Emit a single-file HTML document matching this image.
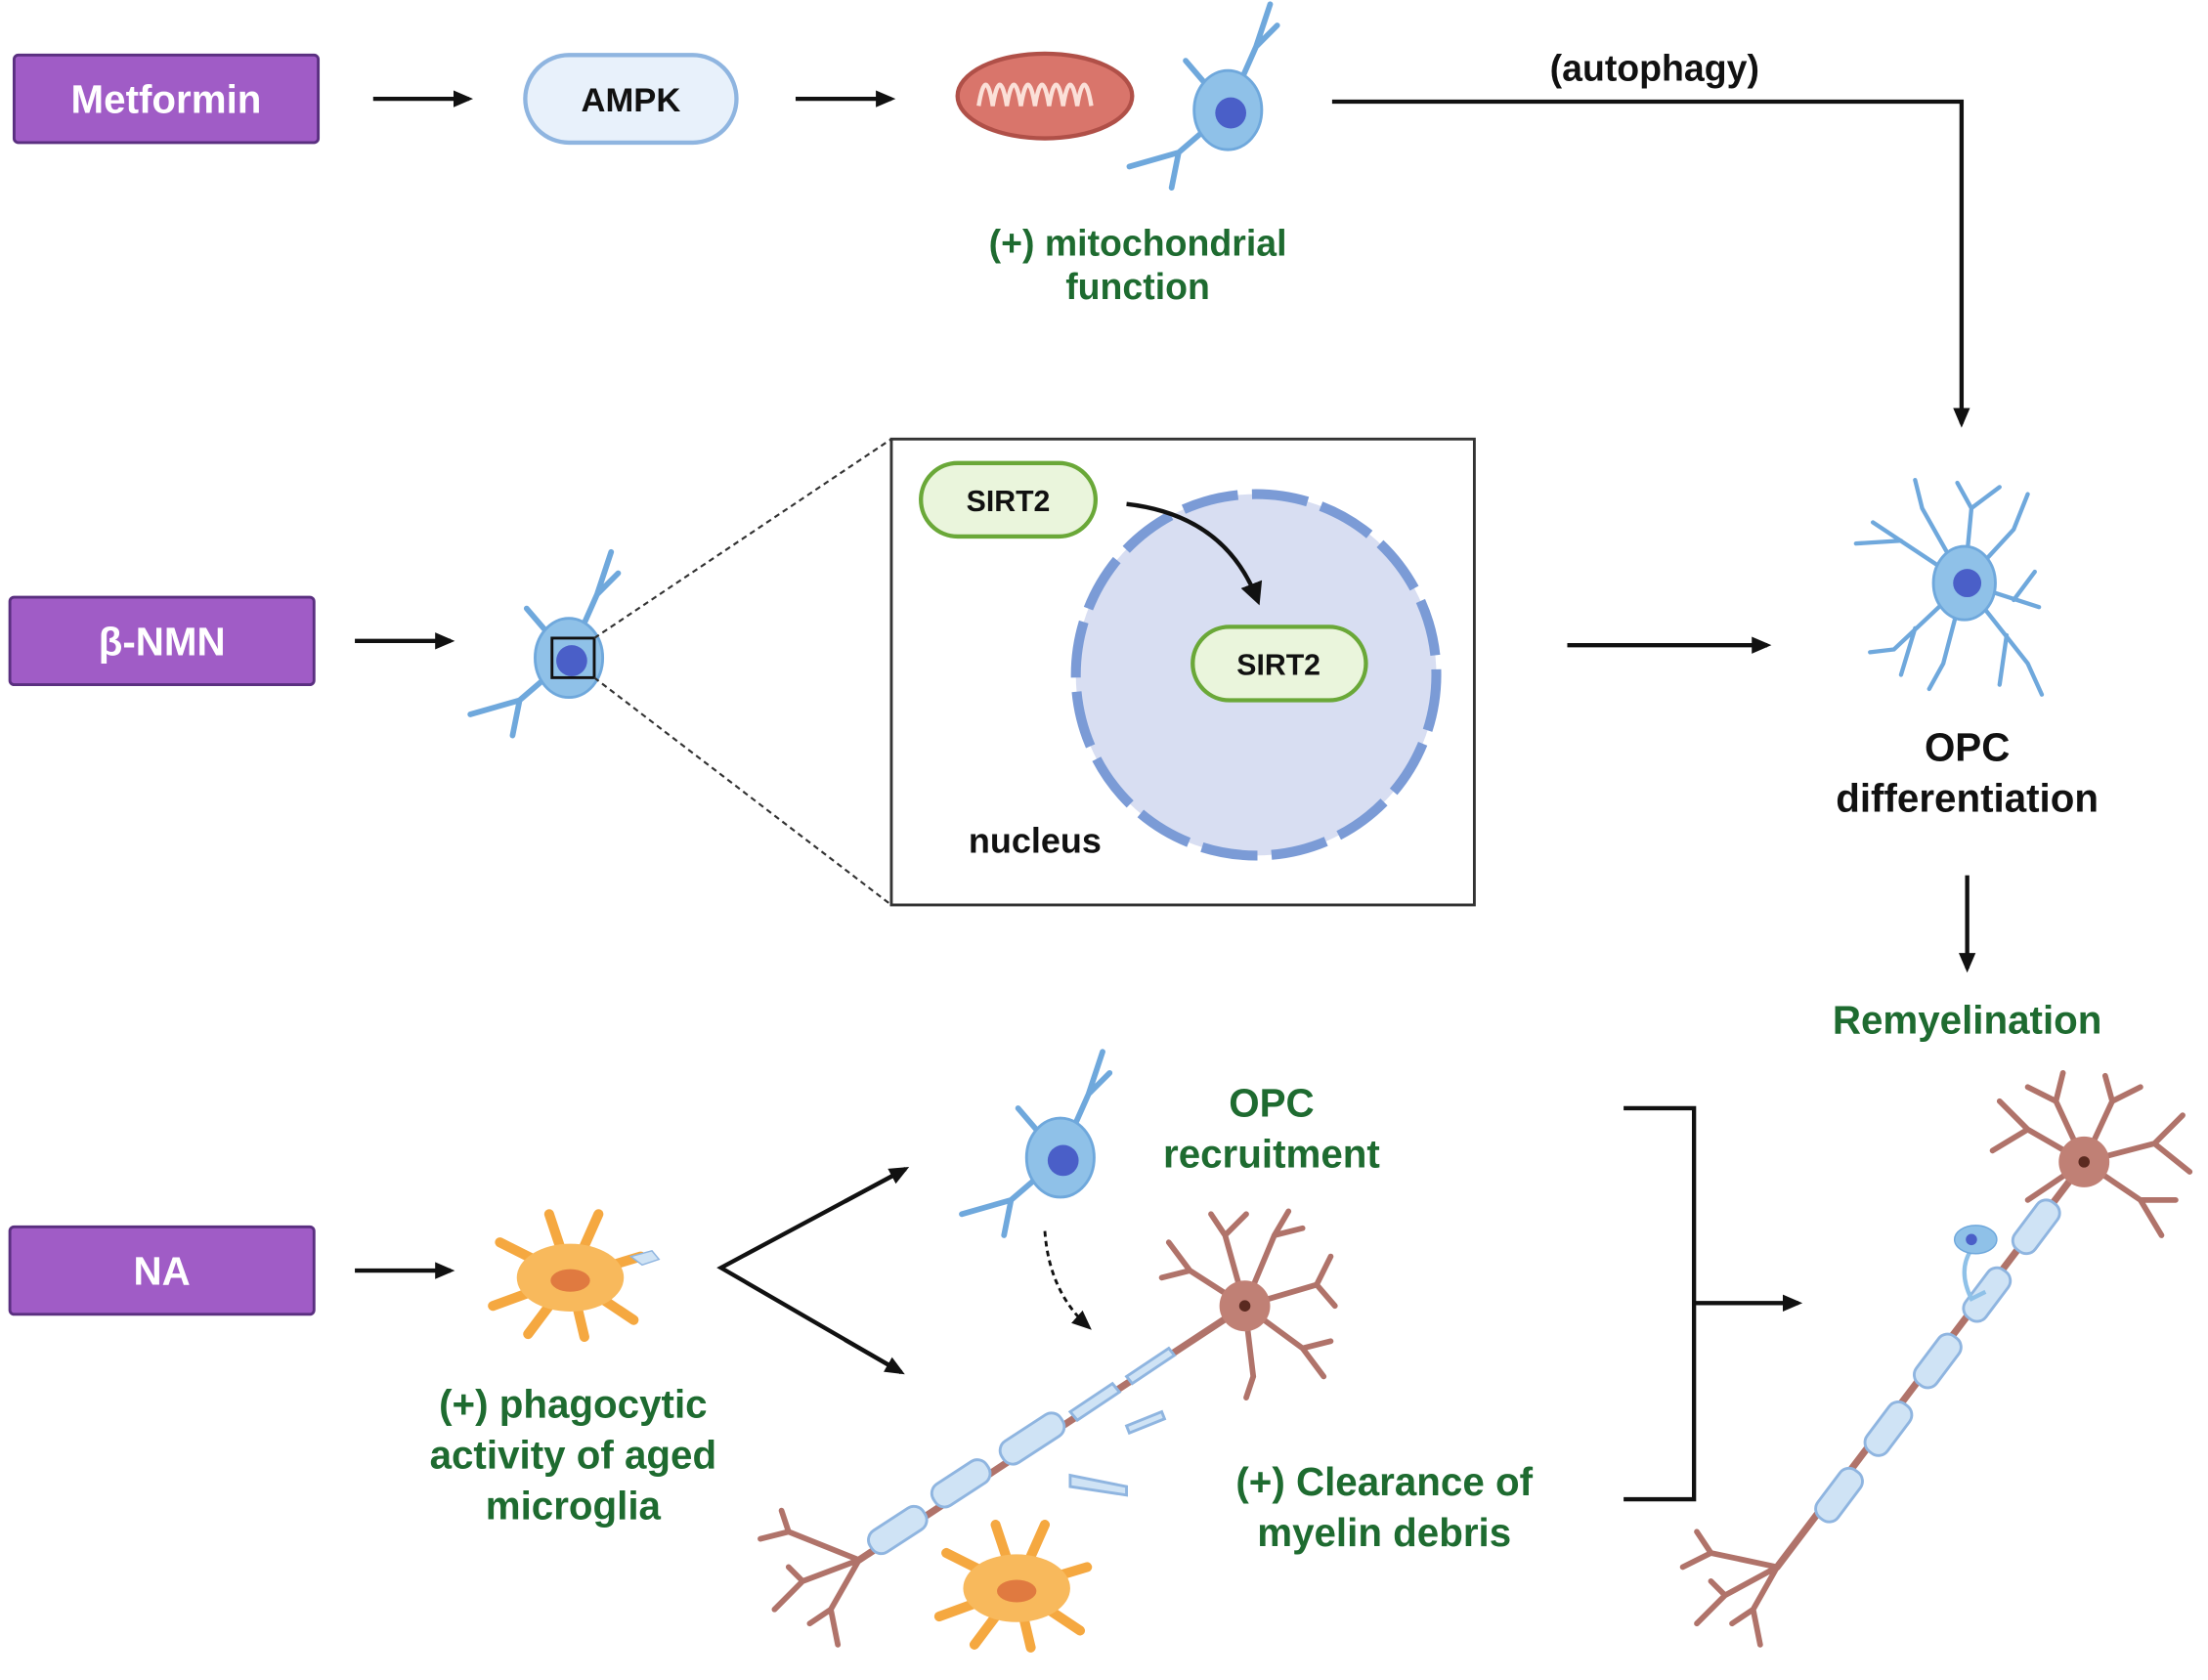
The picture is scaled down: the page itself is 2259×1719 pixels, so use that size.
<!DOCTYPE html>
<html><head><meta charset="utf-8"><style>
html,body{margin:0;padding:0;background:#fff;}
svg{display:block;}
text{font-family:"Liberation Sans",sans-serif;font-weight:bold;}
</style></head><body>
<svg width="2259" height="1719" viewBox="0 0 1568 1190" preserveAspectRatio="none" xmlns="http://www.w3.org/2000/svg">
<defs>
<marker id="ah" markerWidth="14" markerHeight="14" refX="11" refY="7" orient="auto" markerUnits="userSpaceOnUse" viewBox="0 0 14 14">
<path d="M0,1 L14,7 L0,13 z" fill="#111"/></marker>
<marker id="ah2" markerWidth="16" markerHeight="16" refX="12" refY="8" orient="auto" markerUnits="userSpaceOnUse" viewBox="0 0 16 16">
<path d="M0,0 L16,8 L0,16 z" fill="#111"/></marker>
<g id="opc">
<path d="M0,0 L-30,-35 M0,0 L20,-45 L35,-60 M20,-45 L30,-75 M0,0 L-35,30 L-70,40 M-35,30 L-40,55" stroke="#6fa8dc" stroke-width="4" fill="none" stroke-linecap="round"/>
<ellipse cx="0" cy="0" rx="24" ry="28" fill="#8fc1e8" stroke="#6fa8dc" stroke-width="2"/>
<circle cx="2" cy="2" r="11" fill="#4a5fc8"/>
</g>
<g id="mg">
<path d="M0,0 L-50,-25 M0,0 L-55,20 M0,0 L-30,40 M0,0 L10,42 M0,0 L45,30 M0,0 L50,-15 M0,0 L20,-45 M0,0 L-15,-45" stroke="#f5a840" stroke-width="7" fill="none" stroke-linecap="round"/>
<ellipse cx="0" cy="0" rx="38" ry="24" fill="#f8b95c"/>
<ellipse cx="0" cy="2" rx="14" ry="8" fill="#e07a40"/>
</g>
</defs>

<rect x="10" y="39" width="216" height="62" rx="3" fill="#a05cc6" stroke="#5a2f80" stroke-width="2"/>
<text x="118" y="80" fill="#fff" font-size="28" text-anchor="middle">Metformin</text>
<line x1="265" y1="70" x2="333" y2="70" stroke="#111" stroke-width="3" marker-end="url(#ah)"/>
<rect x="373" y="39" width="150" height="62" rx="31" fill="#e8f1fb" stroke="#8fb5e0" stroke-width="3"/>
<text x="448" y="79" fill="#111" font-size="24" text-anchor="middle">AMPK</text>
<line x1="565" y1="70" x2="633" y2="70" stroke="#111" stroke-width="3" marker-end="url(#ah)"/>
<ellipse cx="742" cy="68" rx="62" ry="30" fill="#d9756b" stroke="#b05048" stroke-width="3"/>
<path d="M695,75 q5,-30 10,0 q5,-30 10,0 q5,-30 10,0 q5,-30 10,0 q5,-30 10,0 q5,-30 10,0 q5,-30 10,0 q5,-30 10,0" stroke="#fbe0d8" stroke-width="3" fill="none"/>
<use href="#opc" x="872" y="78"/>
<text x="808" y="181" fill="#1e6b30" font-size="26" text-anchor="middle">(+) mitochondrial</text>
<text x="808" y="212" fill="#1e6b30" font-size="26" text-anchor="middle">function</text>
<polyline points="946,72 1393,72 1393,300" fill="none" stroke="#111" stroke-width="3" marker-end="url(#ah)"/>
<text x="1175" y="57" fill="#111" font-size="26" text-anchor="middle">(autophagy)</text>

<rect x="7" y="423" width="216" height="62" rx="3" fill="#a05cc6" stroke="#5a2f80" stroke-width="2"/>
<text x="115" y="464" fill="#fff" font-size="28" text-anchor="middle">β-NMN</text>
<line x1="252" y1="454" x2="320" y2="454" stroke="#111" stroke-width="3" marker-end="url(#ah)"/>
<use href="#opc" x="404" y="466"/>
<rect x="392" y="452" width="30" height="28" fill="none" stroke="#111" stroke-width="2"/>
<line x1="422" y1="452" x2="633" y2="311" stroke="#333" stroke-width="1.5" stroke-dasharray="4,3"/>
<line x1="422" y1="480" x2="633" y2="641" stroke="#333" stroke-width="1.5" stroke-dasharray="4,3"/>
<rect x="633" y="311" width="414" height="330" fill="#fff" stroke="#333" stroke-width="2"/>
<circle cx="892" cy="478" r="128" fill="#d8def2" stroke="#7b9bd6" stroke-width="7" stroke-dasharray="40,10"/>
<rect x="654" y="328" width="124" height="52" rx="26" fill="#eaf5dc" stroke="#6aa838" stroke-width="3"/>
<text x="716" y="362" fill="#111" font-size="21" text-anchor="middle">SIRT2</text>
<rect x="847" y="444" width="123" height="52" rx="26" fill="#eaf5dc" stroke="#6aa838" stroke-width="3"/>
<text x="908" y="478" fill="#111" font-size="21" text-anchor="middle">SIRT2</text>
<path d="M800,357 Q870,365 893,425" fill="none" stroke="#111" stroke-width="3" marker-end="url(#ah2)"/>
<text x="735" y="604" fill="#111" font-size="25" text-anchor="middle">nucleus</text>
<line x1="1113" y1="457" x2="1255" y2="457" stroke="#111" stroke-width="3" marker-end="url(#ah)"/>
<g stroke="#6fa8dc" stroke-width="3" fill="none" stroke-linecap="round">
<path d="M1395,413 L1330,370 M1350,383 L1318,385 M1395,413 L1365,360 L1360,340 M1395,413 L1400,360 L1390,342 M1400,360 L1420,345 M1395,413 L1430,375 L1440,350 M1395,413 L1448,430 M1430,425 L1445,405 M1395,413 L1440,470 L1450,492 M1425,450 L1420,485 M1395,413 L1380,470 L1370,488 M1395,413 L1345,460 L1328,462 M1360,445 L1350,478"/>
</g>
<ellipse cx="1395" cy="413" rx="22" ry="26" fill="#8fc1e8" stroke="#6fa8dc" stroke-width="2"/>
<circle cx="1397" cy="413" r="10" fill="#4a5fc8"/>
<text x="1397" y="539" fill="#111" font-size="28" text-anchor="middle">OPC</text>
<text x="1397" y="575" fill="#111" font-size="28" text-anchor="middle">differentiation</text>
<line x1="1397" y1="620" x2="1397" y2="686" stroke="#111" stroke-width="3" marker-end="url(#ah)"/>
<text x="1397" y="732" fill="#1e6b30" font-size="28" text-anchor="middle">Remyelination</text>

<rect x="7" y="869" width="216" height="62" rx="3" fill="#a05cc6" stroke="#5a2f80" stroke-width="2"/>
<text x="115" y="910" fill="#fff" font-size="28" text-anchor="middle">NA</text>
<line x1="252" y1="900" x2="320" y2="900" stroke="#111" stroke-width="3" marker-end="url(#ah)"/>
<use href="#mg" x="405" y="905"/>
<path d="M448,890 l15,-4 l5,6 l-12,4z" fill="#cfe3f5" stroke="#8fb5e0"/>
<text x="407" y="1004" fill="#1e6b30" font-size="28" text-anchor="middle">(+) phagocytic</text>
<text x="407" y="1040" fill="#1e6b30" font-size="28" text-anchor="middle">activity of aged</text>
<text x="407" y="1076" fill="#1e6b30" font-size="28" text-anchor="middle">microglia</text>
<polyline points="643,828 512,898 640,972" fill="none" stroke="#111" stroke-width="3"/>
<line x1="600" y1="851" x2="643" y2="828" stroke="#111" stroke-width="3" marker-end="url(#ah)"/>
<line x1="600" y1="949" x2="640" y2="972" stroke="#111" stroke-width="3" marker-end="url(#ah)"/>
<use href="#opc" x="753" y="820"/>
<text x="903" y="791" fill="#1e6b30" font-size="28" text-anchor="middle">OPC</text>
<text x="903" y="827" fill="#1e6b30" font-size="28" text-anchor="middle">recruitment</text>
<path d="M742,872 Q745,915 773,940" fill="none" stroke="#111" stroke-width="2" stroke-dasharray="4,3" marker-end="url(#ah)"/>
<g stroke="#b0736a" fill="none" stroke-linecap="round">
<path d="M884,925 L610,1105" stroke-width="5"/>
<path d="M884,925 L845,900 L830,880 M845,900 L825,905 M884,925 L870,875 L860,860 M870,875 L885,860 M884,925 L905,875 L915,858 M905,875 L925,870 M884,925 L935,910 L945,890 M935,910 L948,925 M884,925 L925,955 L940,975 M925,955 L945,950 M884,925 L890,975 L885,990" stroke-width="4"/>
<path d="M610,1105 L560,1085 L540,1090 M560,1085 L555,1070 M610,1105 L570,1120 L550,1140 M570,1120 L560,1110 M610,1105 L590,1140 L595,1165 M590,1140 L575,1150" stroke-width="4"/>
</g>
<circle cx="884" cy="925" r="18" fill="#c08075"/>
<circle cx="884" cy="925" r="4" fill="#5a2a20"/>
<g fill="#cfe3f5" stroke="#8fb5e0" stroke-width="2">
<rect x="615" y="1075" width="45" height="18" rx="8" transform="rotate(-33 637 1084)"/>
<rect x="660" y="1042" width="45" height="18" rx="8" transform="rotate(-33 682 1051)"/>
<rect x="708" y="1010" width="50" height="18" rx="8" transform="rotate(-33 733 1019)"/>
<path d="M760,1000 l30,-20 l5,6 l-30,20z M800,975 l30,-20 l4,5 l-30,20z M800,1010 l25,-10 l2,5 l-25,10z M760,1045 l40,8 l0,6 l-40,-6z"/>
</g>
<use href="#mg" x="722" y="1125"/>
<text x="983" y="1059" fill="#1e6b30" font-size="28" text-anchor="middle">(+) Clearance of</text>
<text x="983" y="1095" fill="#1e6b30" font-size="28" text-anchor="middle">myelin debris</text>
<polyline points="1153,785 1203,785 1203,1062 1153,1062" fill="none" stroke="#111" stroke-width="3"/>
<line x1="1203" y1="923" x2="1277" y2="923" stroke="#111" stroke-width="3" marker-end="url(#ah)"/>
<g stroke="#b0736a" fill="none" stroke-linecap="round">
<path d="M1480,823 L1262,1110" stroke-width="5"/>
<path d="M1480,823 L1440,800 L1420,780 M1440,800 L1415,815 M1480,823 L1460,780 L1465,760 M1460,780 L1440,770 M1480,823 L1500,780 L1495,762 M1500,780 L1520,770 M1480,823 L1530,810 L1550,790 M1530,810 L1555,830 M1480,823 L1520,850 L1535,875 M1520,850 L1545,850 M1480,823 L1455,840 L1440,850" stroke-width="4"/>
<path d="M1262,1110 L1215,1100 L1195,1110 M1215,1100 L1205,1085 M1262,1110 L1225,1130 L1205,1150 M1225,1130 L1215,1120 M1262,1110 L1245,1140 L1250,1165 M1245,1140 L1230,1150" stroke-width="4"/>
</g>
<circle cx="1480" cy="823" r="18" fill="#c08075"/>
<circle cx="1480" cy="823" r="4" fill="#5a2a20"/>
<g fill="#cfe3f5" stroke="#8fb5e0" stroke-width="2">
<rect x="1285" y="1050" width="42" height="18" rx="8" transform="rotate(-53 1306 1059)"/>
<rect x="1320" y="1003" width="42" height="18" rx="8" transform="rotate(-53 1341 1012)"/>
<rect x="1355" y="955" width="42" height="18" rx="8" transform="rotate(-53 1376 964)"/>
<rect x="1390" y="908" width="42" height="18" rx="8" transform="rotate(-53 1411 917)"/>
<rect x="1425" y="860" width="42" height="18" rx="8" transform="rotate(-53 1446 869)"/>
</g>
<path d="M1400,885 Q1390,900 1400,920 L1410,915" fill="none" stroke="#8fc1e8" stroke-width="3"/>
<ellipse cx="1403" cy="878" rx="15" ry="10" fill="#8fc1e8" stroke="#6fa8dc"/>
<circle cx="1400" cy="878" r="4" fill="#4a5fc8"/>
</svg>
</body></html>
